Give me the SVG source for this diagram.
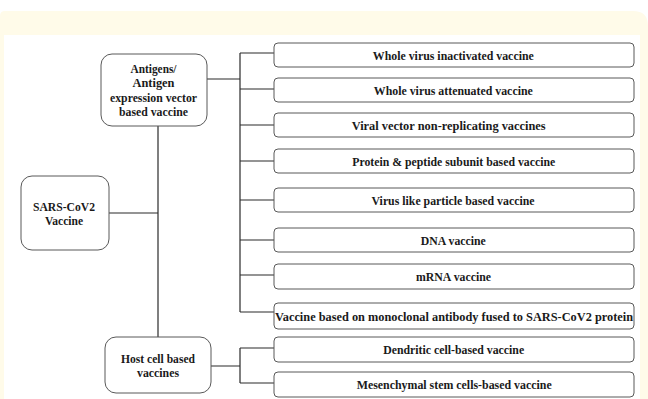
<svg xmlns="http://www.w3.org/2000/svg" width="648" height="399" viewBox="0 0 648 399">
<style>
.bx{fill:#fff;stroke:#595959;stroke-width:1}
.t{font-family:"Liberation Serif","Times New Roman",serif;font-weight:bold;font-size:12.5px;fill:#1a1a1a;text-anchor:middle}
.c{fill:none;stroke:#2b2b2b;stroke-width:1.2}
</style>
<rect x="0" y="0" width="648" height="399" fill="#fff"/>
<path d="M0,16 Q0,11 5,11 L633,11 Q648,11 648,26 L648,399 L0,399 Z" fill="#fffbe9"/>
<rect x="4" y="35" width="636" height="364" fill="#fff"/>
<g id="connectors">
<path class="c" d="M207,79 H240 M240,53 V312 M240,53 H274 M240,89 H274 M240,125 H274 M240,161 H274 M240,200 H274 M240,240 H274 M240,275 H274 M240,312 H274"/>
<path class="c" d="M158,126 V337 M109,213 H158"/>
<path class="c" d="M211,366 H240 M240,348 V383 M240,348 H274 M240,383 H274"/>
</g>
<g id="sars"><rect class="bx" x="21" y="176" width="88" height="74" rx="11"/>
<text class="t" x="64" y="211" textLength="62" lengthAdjust="spacingAndGlyphs">SARS-CoV2</text><text class="t" x="64" y="225" textLength="38" lengthAdjust="spacingAndGlyphs">Vaccine</text></g>
<g id="antigens"><rect class="bx" x="101" y="54" width="106" height="72" rx="11"/>
<text class="t" x="153.5" y="73" textLength="46" lengthAdjust="spacingAndGlyphs">Antigens/</text><text class="t" x="153.5" y="87" textLength="42" lengthAdjust="spacingAndGlyphs">Antigen</text><text class="t" x="153.5" y="101.5" textLength="87" lengthAdjust="spacingAndGlyphs">expression vector</text><text class="t" x="153.5" y="115.5" textLength="69" lengthAdjust="spacingAndGlyphs">based vaccine</text></g>
<g id="host"><rect class="bx" x="105" y="337" width="106" height="56" rx="11"/>
<text class="t" x="158" y="363" textLength="74" lengthAdjust="spacingAndGlyphs">Host cell based</text><text class="t" x="158" y="377" textLength="42" lengthAdjust="spacingAndGlyphs">vaccines</text></g>
<g id="b1"><rect class="bx" x="274" y="43" width="360" height="24" rx="4"/><text class="t" x="453.3" y="59.5" textLength="161" lengthAdjust="spacingAndGlyphs">Whole virus inactivated vaccine</text></g>
<g id="b2"><rect class="bx" x="274" y="78" width="360" height="24" rx="4"/><text class="t" x="453.3" y="94.5" textLength="159" lengthAdjust="spacingAndGlyphs">Whole virus attenuated vaccine</text></g>
<g id="b3"><rect class="bx" x="274" y="113" width="360" height="24" rx="4"/><text class="t" x="448.7" y="129.5" textLength="194" lengthAdjust="spacingAndGlyphs">Viral vector non-replicating vaccines</text></g>
<g id="b4"><rect class="bx" x="274" y="149" width="360" height="24" rx="4"/><text class="t" x="453.7" y="165.5" textLength="203" lengthAdjust="spacingAndGlyphs">Protein &amp; peptide subunit based vaccine</text></g>
<g id="b5"><rect class="bx" x="274" y="188" width="360" height="24" rx="4"/><text class="t" x="453" y="204.5" textLength="163" lengthAdjust="spacingAndGlyphs">Virus like particle based vaccine</text></g>
<g id="b6"><rect class="bx" x="274" y="228" width="360" height="24" rx="4"/><text class="t" x="453.3" y="244.5" textLength="65" lengthAdjust="spacingAndGlyphs">DNA vaccine</text></g>
<g id="b7"><rect class="bx" x="274" y="264" width="360" height="25" rx="4"/><text class="t" x="453.5" y="281" textLength="75" lengthAdjust="spacingAndGlyphs">mRNA vaccine</text></g>
<g id="b8"><rect class="bx" x="274" y="303" width="360" height="26" rx="4"/><text class="t" x="454" y="320.5" textLength="358" lengthAdjust="spacingAndGlyphs">Vaccine based on monoclonal antibody fused to SARS-CoV2 protein</text></g>
<g id="b9"><rect class="bx" x="274" y="337" width="360" height="25" rx="4"/><text class="t" x="453.7" y="354" textLength="141" lengthAdjust="spacingAndGlyphs">Dendritic cell-based vaccine</text></g>
<g id="b10"><rect class="bx" x="274" y="372" width="360" height="25" rx="4"/><text class="t" x="454.2" y="389" textLength="195" lengthAdjust="spacingAndGlyphs">Mesenchymal stem cells-based vaccine</text></g>
</svg>
